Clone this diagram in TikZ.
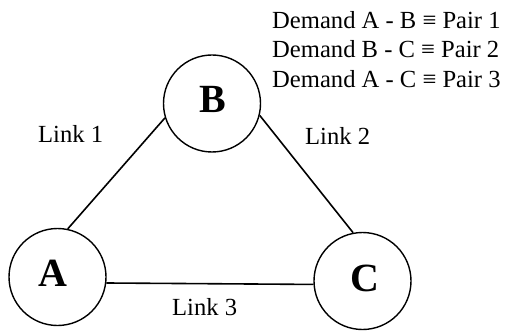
\documentclass[tikz,border=0pt]{standalone}
\usepackage{fontspec}
\setmainfont{Liberation Serif}
\begin{document}
\begin{tikzpicture}[x=1pt,y=-1pt,
  station/.style={draw,circle,line width=1.4pt,minimum size=97pt,inner sep=0pt},
  letter/.style={font=\fontsize{40}{40}\selectfont\bfseries,inner sep=0pt},
  lbl/.style={font=\fontsize{24.6}{29.5}\selectfont,inner sep=0pt,anchor=base west},
  link/.style={line width=1.6pt}]
\useasboundingbox (0,0) rectangle (508,331);
\node[station] (A) at (57.5,277) {};
\node[station] (B) at (212,103.5) {};
\node[station] (C) at (362.5,281) {};
\node[letter] (lA) at (52.5,273.5) {A};
\node[letter] (lB) at (212.5,99) {B};
\node[letter] (lC) at (364.5,278) {C};
\draw[link] (A.78) -- (B.197);
\draw[link] (B.346) -- (C.101);
\draw[link] (A.-7) -- (C.184);
\node[lbl] (l1) at (38,142.7) {Link 1};
\node[lbl] (l2) at (305,145) {Link 2};
\node[lbl] (l3) at (172,315) {Link 3};
\node[lbl] (d1) at (272,28.3) {Demand A - B ≡ Pair 1};
\node[lbl] (d2) at (272,57.6) {Demand B - C ≡ Pair 2};
\node[lbl] (d3) at (272,87.3) {Demand A - C ≡ Pair 3};
\end{tikzpicture}
\end{document}
